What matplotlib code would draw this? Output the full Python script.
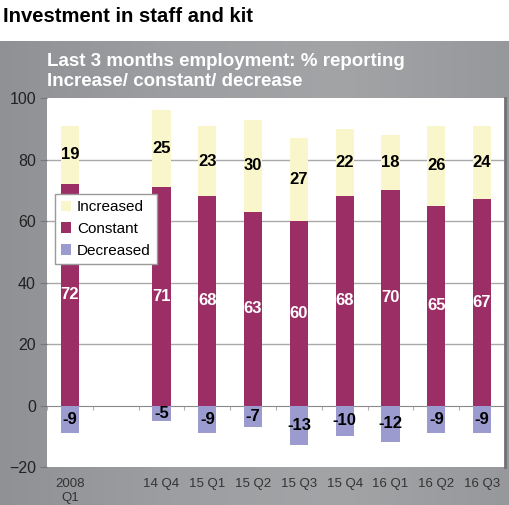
import numpy as np
import matplotlib.pyplot as plt

plt.rcParams['font.family'] = ['Liberation Sans', 'DejaVu Sans']

# 数据 (空位用 None)
quarters = ['2008\nQ1', '', '14 Q4', '15 Q1', '15 Q2', '15 Q3', '15 Q4', '16 Q1', '16 Q2', '16 Q3']
increased = [19, None, 25, 23, 30, 27, 22, 18, 26, 24]
constant = [72, None, 71, 68, 63, 60, 68, 70, 65, 67]
decreased = [-9, None, -5, -9, -7, -13, -10, -12, -9, -9]

c_inc = '#faf6cc'
c_con = '#9b2f65'
c_dec = '#9c9bcf'

fig = plt.figure(figsize=(5.1, 5.05), dpi=100)

# 灰色外框
bg = fig.add_axes([0, 0, 1, 1 - 41 / 505])
grad = np.linspace(0, 1, 256).reshape(1, -1)
bg.imshow(grad, aspect='auto', cmap=plt.matplotlib.colors.LinearSegmentedColormap.from_list(
    'g', ['#8f9194', '#9c9ea1', '#a2a4a6', '#96989b']), extent=[0, 1, 0, 1])
bg.set_axis_off()

fig.text(3 / 510, 1 - 16 / 505, 'Investment in staff and kit', fontsize=14.6, fontweight='bold',
         va='center', ha='left', color='black')
fig.text(47 / 510, 1 - 61 / 505, 'Last 3 months employment: % reporting', fontsize=13.5,
         fontweight='bold', color='white', va='center')
fig.text(47 / 510, 1 - 82 / 505, 'Increase/ constant/ decrease', fontsize=13.5,
         fontweight='bold', color='white', va='center')

ax = fig.add_axes([47 / 510, 38 / 505, 458 / 510, 369 / 505])
ax.set_facecolor('white')

x = np.arange(len(quarters))
idx = [i for i in range(len(quarters)) if constant[i] is not None]
xs = x[idx]
inc = np.array([increased[i] for i in idx])
con = np.array([constant[i] for i in idx])
dec = np.array([decreased[i] for i in idx])

w = 0.4
b_con = ax.bar(xs, con, w, color=c_con, label='Constant', zorder=3)
b_inc = ax.bar(xs, inc, w, bottom=con, color=c_inc, label='Increased', zorder=3)
b_dec = ax.bar(xs, dec, w, color=c_dec, label='Decreased', zorder=3)

for xi, c, i, d in zip(xs, con, inc, dec):
    ax.text(xi, c / 2, str(c), ha='center', va='center', color='white', fontsize=12, fontweight='bold', zorder=4)
    ax.text(xi, c + i / 2, str(i), ha='center', va='center', color='black', fontsize=12, fontweight='bold', zorder=4)
    ax.text(xi, d / 2, str(d), ha='center', va='center', color='black', fontsize=12, fontweight='bold', zorder=4)

ax.set_xlim(-0.5, len(quarters) - 0.5)
ax.set_ylim(-20, 100)
ax.set_yticks(np.arange(-20, 101, 20))
ax.tick_params(axis='y', length=5, color='#777777', labelsize=11.5, labelcolor='#222222', pad=3)
ax.set_xticks(x)
ax.set_xticklabels(quarters)
ax.tick_params(axis='x', length=0, labelsize=9.5, labelcolor='#333333', pad=8)
for yv in [20, 40, 60, 80]:
    ax.axhline(yv, color='#a9a9a9', lw=1, zorder=1)

for s in ['top', 'bottom', 'left']:
    ax.spines[s].set_visible(False)
ax.spines['right'].set_color('#6f7173')
ax.spines['right'].set_linewidth(2)

# 0 线与刻度
sec = ax.secondary_xaxis(20 / 120)
sec.set_xticks(np.arange(len(quarters) + 1) - 0.5)
sec.set_xticklabels([])
sec.tick_params(length=3, color='#b0b0b0', direction='out')
sec.spines['bottom'].set_color('#8a8a8a')
sec.spines['bottom'].set_zorder(2)

leg = ax.legend(handles=[b_inc, b_con, b_dec], loc='upper left', bbox_to_anchor=(0.0, 0.76),
                fontsize=11, frameon=True, fancybox=False, edgecolor='#9a9a9a', framealpha=1,
                handlelength=0.7, handleheight=0.7, handletextpad=0.35, borderpad=0.4, labelspacing=0.5)
leg.get_frame().set_linewidth(1)

fig.savefig('out.png', dpi=100)
